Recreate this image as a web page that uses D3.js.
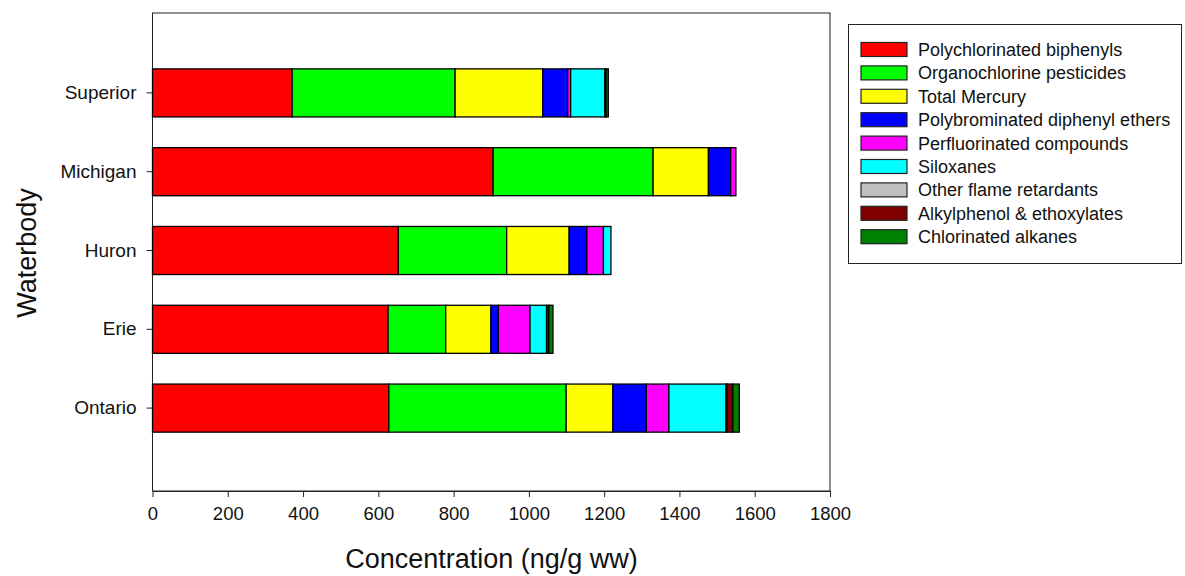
<!DOCTYPE html>
<html><head><meta charset="utf-8">
<script src="https://cdn.jsdelivr.net/npm/d3@7"></script>
<style>body{margin:0;background:#fff;}svg{display:block;font-family:Arial,"Liberation Sans",sans-serif;}</style>
</head><body><svg id="c" width="1185" height="576"></svg>
<script>
const waterbodies = ["Superior","Michigan","Huron","Erie","Ontario"];
const seriesNames = ["Polychlorinated biphenyls","Organochlorine pesticides","Total Mercury","Polybrominated diphenyl ethers","Perfluorinated compounds","Siloxanes","Other flame retardants","Alkylphenol & ethoxylates","Chlorinated alkanes"];
const seriesColors = ["#ff0000","#00ff00","#ffff00","#0000ff","#ff00ff","#00ffff","#c0c0c0","#800000","#008000"];
// values per series, in waterbody order
const pcb      = [371, 905, 653, 626, 628];
const ocp      = [433, 425, 288, 153, 471];
const mercury  = [233, 147, 166, 120, 124];
const pbde     = [66, 59, 47, 20, 89];
const pfc      = [8, 14, 44, 84, 60];
const siloxane = [91, 0, 20, 44, 152];
const otherFR  = [0, 0, 0, 0, 2];
const alkylph  = [3, 0, 0, 6, 16];
const chlorAlk = [6, 0, 0, 11, 17];
const xTicks = [0,200,400,600,800,1000,1200,1400,1600,1800];

const seriesValues = [pcb,ocp,mercury,pbde,pfc,siloxane,otherFR,alkylph,chlorAlk];
const rows = waterbodies.map((w,i)=>{const o={name:w}; seriesNames.forEach((s,j)=>o[s]=seriesValues[j][i]); return o;});
const stack = d3.stack().keys(seriesNames)(rows);

const svg = d3.select("#c");
const L=152.5, R=830, T=13, B=491;
const x = d3.scaleLinear().domain([0,1800]).range([L,R]);
const y = d3.scaleBand().domain(waterbodies).range([53.5,447.5]).paddingInner(0.39).paddingOuter(0.195);

// frame
svg.append("rect").attr("x",L).attr("y",T).attr("width",R-L).attr("height",B-T)
  .attr("fill","none").attr("stroke","#222").attr("stroke-width",1);

// bars
svg.append("g").selectAll("g").data(stack).join("g")
  .attr("fill",(d,i)=>seriesColors[i])
  .selectAll("rect").data(d=>d.filter(p=>p[1]-p[0]>0)).join("rect")
  .attr("x",d=>x(d[0])).attr("width",d=>x(d[1])-x(d[0]))
  .attr("y",d=>y(d.data.name)).attr("height",y.bandwidth())
  .attr("stroke","#000").attr("stroke-width",1.3);

// x axis
const xa = svg.append("g").attr("transform",`translate(0,${B})`)
  .call(d3.axisBottom(x).tickValues(xTicks).tickFormat(d3.format("d")).tickSize(6).tickPadding(10).tickSizeOuter(0));
xa.select(".domain").attr("stroke","#222");
xa.selectAll("line").attr("stroke","#222");
xa.selectAll("text").attr("font-size",18.5).attr("fill","#111").attr("font-family","Arial, Liberation Sans, sans-serif");

// y axis
const ya = svg.append("g").attr("transform",`translate(${L},0)`)
  .call(d3.axisLeft(y).tickSize(6).tickPadding(10).tickSizeOuter(0));
ya.select(".domain").remove();
ya.selectAll("line").attr("stroke","#222");
ya.selectAll("text").attr("font-size",19).attr("fill","#111").attr("font-family","Arial, Liberation Sans, sans-serif");

// titles
svg.append("text").attr("x",491.5).attr("y",568).attr("text-anchor","middle")
  .attr("font-size",27).attr("fill","#111").text("Concentration (ng/g ww)");
svg.append("text").attr("transform","translate(36,253) rotate(-90)").attr("text-anchor","middle")
  .attr("font-size",27).attr("fill","#111").text("Waterbody");

// legend
const lg = svg.append("g");
lg.append("rect").attr("x",848.5).attr("y",24.5).attr("width",333).attr("height",239)
  .attr("fill","#fff").attr("stroke","#222").attr("stroke-width",1);
const li = lg.selectAll("g").data(seriesNames).join("g")
  .attr("transform",(d,i)=>`translate(0,${49.5+i*23.4})`);
li.append("rect").attr("x",861).attr("y",-7).attr("width",46).attr("height",14)
  .attr("fill",(d,i)=>seriesColors[i]).attr("stroke","#222").attr("stroke-width",1.2);
li.append("text").attr("x",918).attr("y",6.5).attr("font-size",18).attr("fill","#111").text(d=>d);
</script></body></html>
